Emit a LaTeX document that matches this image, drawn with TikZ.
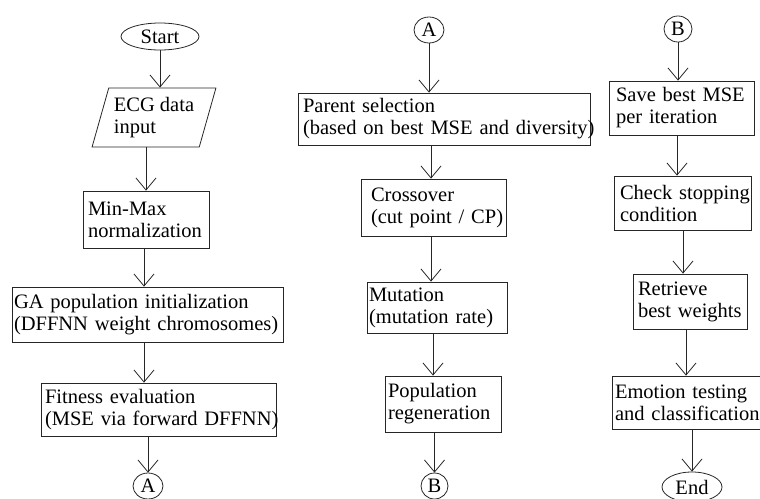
\documentclass[tikz,border=0pt]{standalone}
\usepackage{fontspec}
\setmainfont{Liberation Serif}
\usetikzlibrary{arrows.meta,shapes.geometric}
\begin{document}
\begin{tikzpicture}[x=1pt,y=-1pt,
  line width=0.8pt, draw=black!85,
  every node/.style={font=\fontsize{20.5}{22}\selectfont, text=black},
  box/.style={draw, rectangle, align=left, inner ysep=0pt, inner xsep=#1},
  term/.style={draw, ellipse, inner sep=0pt},
  conn/.style={draw, ellipse, inner sep=0pt, minimum width=29pt, minimum height=26pt},
  io/.style={draw, trapezium, trapezium left angle=70, trapezium right angle=110,
    trapezium stretches=true, align=left, inner sep=0pt},
  arr/.style={-{Straight Barb[length=12pt,width=20pt]}}]
\useasboundingbox (0,0) rectangle (760,498);

% column 1
\node[term, minimum width=78pt, minimum height=27pt] (start) at (160,36.5) {Start};
\node[io, minimum width=124pt, minimum height=59pt] (ecg) at (154,117.5) {ECG data\\input};
\node[box=5pt, text width=116pt, minimum height=57pt] (mm) at (146,219.5) {\mbox{Min-Max}\\\mbox{normalization}};
\node[box=2pt, text width=267pt, minimum height=55pt] (ga) at (147.5,314.5) {\mbox{GA population initialization}\\\mbox{(DFFNN weight chromosomes)}};
\node[box=4pt, text width=227pt, minimum height=53pt] (fit) at (158.5,409.5) {\mbox{Fitness evaluation}\\\mbox{(MSE via forward DFFNN)}};
\node[conn, minimum width=30pt] (a1) at (148,486) {A};

% column 2
\node[conn, minimum width=30pt] (a2) at (429,30) {A};
\node[box=5pt, text width=282pt, minimum height=52pt] (par) at (444,119) {\mbox{Parent selection}\\\mbox{(based on best MSE and diversity)}};
\node[box=10pt, text width=125pt, minimum height=57pt] (cro) at (433.5,207.5) {\mbox{Crossover}\\\mbox{(cut point / CP)}};
\node[box=2pt, text width=136pt, minimum height=51pt] (mut) at (437,307.5) {\mbox{Mutation}\\\mbox{(mutation rate)}};
\node[box=3pt, text width=110pt, minimum height=56pt] (pop) at (443,404) {\mbox{Population}\\\mbox{regeneration}};
\node[conn, minimum width=27pt] (b1) at (434.5,486) {B};

% column 3
\node[conn, minimum width=28pt] (b2) at (678,29) {B};
\node[box=7pt, text width=131pt, minimum height=54pt] (save) at (681.5,108) {\mbox{Save best MSE}\\\mbox{per iteration}};
\node[box=6pt, text width=125pt, minimum height=54pt] (chk) at (682.5,203) {\mbox{Check stopping}\\\mbox{condition}};
\node[box=5pt, text width=104pt, minimum height=55pt] (ret) at (690,301.5) {\mbox{Retrieve}\\\mbox{best weights}};
\node[box=3pt, text width=145pt, minimum height=53pt] (emo) at (687.5,402.5) {\mbox{Emotion testing}\\\mbox{and classification}};
\node[term, minimum width=60pt, minimum height=30pt] (end) at (692,487) {End};

% connectors
\draw[arr] (start.south) -- (start.south |- ecg.north);
\draw[arr] (ecg.south -| 146,0) -- (mm.north -| 146,0);
\draw[arr] (mm.south -| 144,0) -- (ga.north -| 144,0);
\draw[arr] (ga.south -| 144,0) -- (fit.north -| 144,0);
\draw[arr] (fit.south -| 148,0) -- (a1.north);

\draw[arr] (a2.south) -- (par.north -| a2.south);
\draw[arr] (par.south -| 431,0) -- (cro.north -| 431,0);
\draw[arr] (cro.south -| 431,0) -- (mut.north -| 431,0);
\draw[arr] (mut.south -| 433,0) -- (pop.north -| 433,0);
\draw[arr] (pop.south -| 434.5,0) -- (b1.north);

\draw[arr] (b2.south) -- (save.north -| b2.south);
\draw[arr] (save.south -| 677,0) -- (chk.north -| 677,0);
\draw[arr] (chk.south -| 683,0) -- (ret.north -| 683,0);
\draw[arr] (ret.south -| 686,0) -- (emo.north -| 686,0);
\draw[arr] (emo.south -| 692,0) -- (end.north);
\end{tikzpicture}
\end{document}
